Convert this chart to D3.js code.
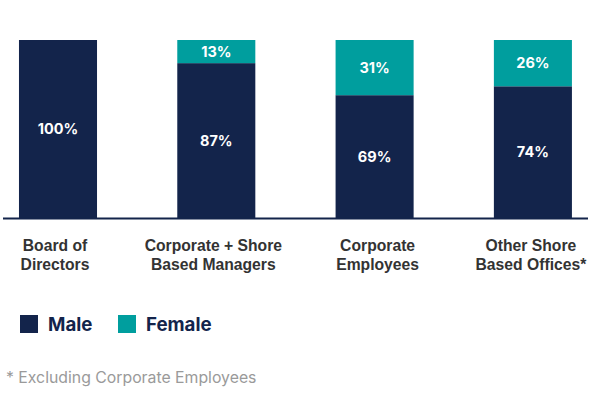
<!DOCTYPE html>
<html>
<head>
<meta charset="utf-8">
<script src="https://cdn.jsdelivr.net/npm/d3@7"></script>
<style>
  body { margin: 0; background: #fff; font-family: Inter, "Noto Sans", sans-serif; }
  svg { display: block; }
</style>
</head>
<body>
<svg id="chart" width="594" height="394"></svg>
<script>
// data
var categories = ["Board of Directors", "Corporate + Shore Based Managers", "Corporate Employees", "Other Shore Based Offices*"];
var categoryLines = [["Board of", "Directors"], ["Corporate + Shore", "Based Managers"], ["Corporate", "Employees"], ["Other Shore", "Based Offices*"]];
var male = [100, 87, 69, 74];
var female = [0, 13, 31, 26];
var seriesNames = ["Male", "Female"];
var colors = ["#13244b", "#009e9e"];
var footnote = "* Excluding Corporate Employees";

var svg = d3.select("#chart");

var plotTop = 40, plotBottom = 218;

var x = d3.scaleBand()
    .domain(categories)
    .range([-20.6, 611.5])
    .paddingInner(0.507)
    .paddingOuter(0.25);
var y = d3.scaleLinear().domain([0, 100]).range([plotBottom, plotTop]);

var rows = categories.map(function(c, i) {
  return {cat: c, Male: male[i], Female: female[i]};
});
var stack = d3.stack().keys(seriesNames)(rows);

var g = svg.append("g");

var layers = g.selectAll(".layer").data(stack)
  .enter().append("g")
    .attr("class", "layer")
    .attr("fill", function(d, i) { return colors[i]; });

layers.selectAll("rect")
  .data(function(d) { return d; })
  .enter().append("rect")
    .attr("x", function(d) { return x(d.data.cat); })
    .attr("width", x.bandwidth())
    .attr("y", function(d) { return y(d[1]); })
    .attr("height", function(d) { return y(d[0]) - y(d[1]); });

// value labels, centred in each segment
layers.selectAll("text")
  .data(function(d) { return d.map(function(p) { return {p: p, key: d.key}; }); })
  .enter().filter(function(d) { return d.p[1] - d.p[0] > 0; })
  .append("text")
    .attr("x", function(d) { return x(d.p.data.cat) + x.bandwidth() / 2; })
    .attr("y", function(d) { return (y(d.p[0]) + y(d.p[1])) / 2; })
    .attr("dy", "0.36em")
    .attr("text-anchor", "middle")
    .attr("fill", "#fff")
    .style("font-size", "14.5px")
    .style("font-weight", "700")
    .text(function(d) { return d.p.data[d.key] + "%"; });

// baseline
g.append("line")
    .attr("x1", 3).attr("x2", 588)
    .attr("y1", plotBottom + 0.5).attr("y2", plotBottom + 0.5)
    .attr("stroke", "#13244b")
    .attr("stroke-width", 2);

// category labels
var xAxis = d3.axisBottom(x).tickSize(0).tickFormat("");
var axisG = g.append("g")
    .attr("transform", "translate(0," + plotBottom + ")")
    .call(xAxis);
axisG.select(".domain").remove();

var labelShift = [-3, -3, 3, -2];
axisG.selectAll(".tick").each(function(d, i) {
  var t = d3.select(this).append("text")
      .attr("fill", "#333333")
      .attr("text-anchor", "middle")
      .style("font-size", "15.7px")
      .style("font-weight", "700");
  categoryLines[i].forEach(function(line, j) {
    t.append("tspan")
      .attr("x", labelShift[i])
      .attr("y", 33 + j * 19)
      .text(line);
  });
});

// legend
var legend = svg.append("g").attr("transform", "translate(20,315)");
var legendX = [0, 98];
seriesNames.forEach(function(name, i) {
  var lg = legend.append("g").attr("transform", "translate(" + legendX[i] + ",0)");
  lg.append("rect")
      .attr("width", 18).attr("height", 18)
      .attr("fill", colors[i]);
  lg.append("text")
      .attr("x", 28).attr("y", 9)
      .attr("dy", "0.36em")
      .attr("fill", "#13244b")
      .style("font-size", "18.7px")
      .style("font-weight", "700")
      .text(name);
});

// footnote
svg.append("text")
    .attr("x", 6).attr("y", 383)
    .attr("fill", "#9a9a9a")
    .style("font-size", "15.8px")
    .text(footnote);
</script>
</body>
</html>
